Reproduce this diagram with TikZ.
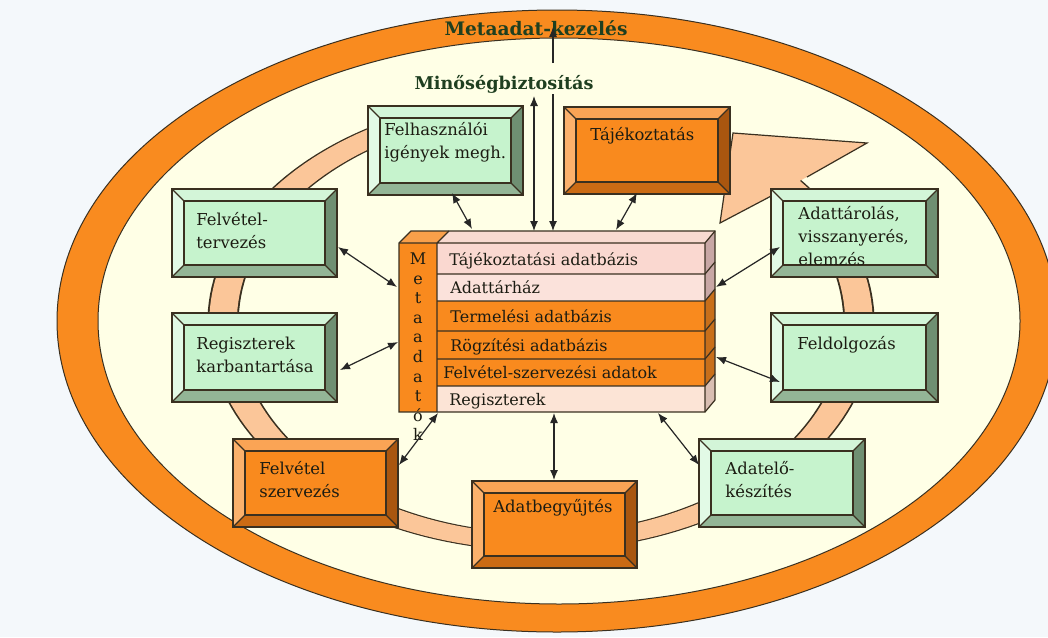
\documentclass[tikz,border=0pt]{standalone}
\usepackage{fontspec}
\setmainfont{DejaVu Serif}
\usetikzlibrary{calc,fit,arrows.meta}
\definecolor{bg}{HTML}{F4F8FB}
\definecolor{ringor}{HTML}{F98B1F}
\definecolor{cream}{HTML}{FFFFE6}
\definecolor{peach}{HTML}{FBC699}
\definecolor{edge}{HTML}{3A3020}
\definecolor{gface}{HTML}{C6F3CD}
\definecolor{gtop}{HTML}{D3F5D8}
\definecolor{gleft}{HTML}{E2FAE6}
\definecolor{gright}{HTML}{6F8F72}
\definecolor{gbot}{HTML}{93B596}
\definecolor{oface}{HTML}{F98A1E}
\definecolor{otop}{HTML}{FAA455}
\definecolor{oleft}{HTML}{FBB16C}
\definecolor{oright}{HTML}{A9560F}
\definecolor{obot}{HTML}{CB6B14}
\definecolor{txt}{HTML}{1C1C12}
\definecolor{ttl}{HTML}{1F3F20}
\definecolor{pinka}{HTML}{FAD8D0}
\definecolor{pinkb}{HTML}{FBE2DB}
\definecolor{peachc}{HTML}{FCE4D6}
\definecolor{sidep}{HTML}{C8A7A5}
\definecolor{sideo}{HTML}{C86F1A}
\definecolor{sider}{HTML}{D9BEB2}
\definecolor{topf}{HTML}{F8DAD0}
\definecolor{coltop}{HTML}{F9A04A}
\tikzset{
  boxtext/.style={font=\fontsize{8.2}{11.5}\selectfont, text=txt, align=left, inner sep=0pt},
  rowtext/.style={font=\fontsize{8}{10}\selectfont, text=txt, inner sep=0pt, anchor=base west},
  coltext/.style={font=\fontsize{8}{9.8}\selectfont, text=txt, align=center, inner sep=0pt},
  ttltext/.style={font=\bfseries\fontsize{9.3}{11}\selectfont, text=ttl, inner sep=0pt},
  outl/.style={draw=edge, line width=0.6pt},
  link/.style={line width=0.6pt, draw=black!85, {Latex[length=5pt,width=4pt]}-{Latex[length=5pt,width=4pt]}},
  linkone/.style={line width=0.6pt, draw=black!85, -{Latex[length=5pt,width=4pt]}},
}
\newcommand\bevelbox[9]{%
  \coordinate (#1-nw) at (#2,#3);
  \coordinate (#1-se) at (#4,#5);
  \coordinate (#1-ne) at (#4,#3);
  \coordinate (#1-sw) at (#2,#5);
  \coordinate (#1-inw) at ($(#1-nw)+(12,12)$);
  \coordinate (#1-ine) at ($(#1-ne)+(-12,12)$);
  \coordinate (#1-ise) at ($(#1-se)+(-12,-12)$);
  \coordinate (#1-isw) at ($(#1-sw)+(12,-12)$);
  \fill[#6top] (#1-nw) -- (#1-ne) -- (#1-ine) -- (#1-inw) -- cycle;
  \fill[#6left] (#1-nw) -- (#1-inw) -- (#1-isw) -- (#1-sw) -- cycle;
  \fill[#6right] (#1-ne) -- (#1-se) -- (#1-ise) -- (#1-ine) -- cycle;
  \fill[#6bot] (#1-sw) -- (#1-isw) -- (#1-ise) -- (#1-se) -- cycle;
  \fill[#6face] (#1-inw) rectangle (#1-ise);
  \draw[outl] (#1-inw) rectangle (#1-ise);
  \draw[outl] (#1-nw) -- (#1-inw) (#1-ne) -- (#1-ine) (#1-se) -- (#1-ise) (#1-sw) -- (#1-isw);
  \node[fit=(#1-nw)(#1-se), inner sep=0pt, outl] (#1) {};
  \node[boxtext, anchor=north west] (#1-t) at ($(#1-nw)+(#7,#8)$) {\rule{0pt}{8pt}#9};
}
\begin{document}
\begin{tikzpicture}[x=0.5pt, y=-0.5pt]
\useasboundingbox (0,0) rectangle (1048,637);
\fill[bg] (0,0) rectangle (1048,637);
% outer ring
\filldraw[fill=ringor, draw=edge, line width=0.5pt] (557,321) ellipse [x radius=250pt, y radius=155.5pt];
\filldraw[fill=cream, draw=edge, line width=0.5pt] (559,321) ellipse [x radius=230.5pt, y radius=141.5pt];
% cycle ring
\begin{scope}[transform canvas={xscale=1.7}]
  \draw[edge, line width=9.2pt] plot[domain=115:402, samples=150] ({(541+318*cos(\x))/1.7},{323-219*sin(\x)});
  \draw[peach, line width=8.1pt] plot[domain=114:403, samples=150] ({(541+318*cos(\x))/1.7},{323-219*sin(\x)});
\end{scope}
\fill[peach] (807,177) -- (867,143) -- (733,133) -- (720,223) -- (775,194) -- cycle;
\draw[edge, line width=0.6pt] (807,177) -- (867,143) -- (733,133) -- (720,223) -- (775,194);
% boxes
\bevelbox{felh}{368}{106}{523}{195}{g}{16}{13}{Felhasználói\\igények megh.}
\bevelbox{terv}{172}{189}{337}{277}{g}{24}{20}{Felvétel-\\tervezés}
\bevelbox{tajek}{564}{107}{730}{194}{o}{26}{17}{Tájékoztatás}
\bevelbox{tarol}{771}{189}{938}{277}{g}{27}{14}{Adattárolás,\\visszanyerés,\\elemzés}
\bevelbox{karb}{172}{313}{337}{402}{g}{24}{20}{Regiszterek\\karbantartása}
\bevelbox{feld}{771}{313}{938}{402}{g}{26}{20}{Feldolgozás}
\bevelbox{szerv}{233}{439}{398}{527}{o}{26}{19}{Felvétel\\szervezés}
\bevelbox{begy}{472}{481}{637}{568}{o}{21}{15}{Adatbegyűjtés}
\bevelbox{elok}{699}{439}{865}{527}{g}{26}{19}{Adatelő-\\készítés}
% central stack
\fill[oface] (399,243) rectangle (437,412);
\fill[coltop] (399,243) -- (411,231) -- (449,231) -- (437,243) -- cycle;
\fill[topf] (437,243) -- (449,231) -- (715,231) -- (705,243) -- cycle;
\fill[pinka] (437,243) rectangle (705,274);
\fill[pinkb] (437,274) rectangle (705,301);
\fill[oface] (437,301) rectangle (705,386);
\fill[peachc] (437,386) rectangle (705,412);
\fill[sidep] (705,243) -- (715,231) -- (715,289) -- (705,301) -- cycle;
\fill[sideo] (705,301) -- (715,289) -- (715,374) -- (705,386) -- cycle;
\fill[sider] (705,386) -- (715,374) -- (715,400) -- (705,412) -- cycle;
\draw[outl] (399,243) -- (411,231) -- (715,231) -- (715,400) -- (705,412) -- (399,412) -- cycle;
\draw[outl] (399,243) -- (705,243) -- (715,231) (437,243) -- (449,231) (437,243) -- (437,412) (705,243) -- (705,412);
\foreach \yy in {274,301,331,359,386}{
  \draw[outl] (437,\yy) -- (705,\yy) -- (715,\yy-12);
}
\node[fit={(399,231)(715,412)}, inner sep=0pt] (stack) {};
\node[rowtext] (r1) at (449,265) {Tájékoztatási adatbázis};
\node[rowtext] (r2) at (450,293.5) {Adattárház};
\node[rowtext] (r3) at (450,322) {Termelési adatbázis};
\node[rowtext] (r4) at (450,351) {Rögzítési adatbázis};
\node[rowtext] (r5) at (443,378.5) {Felvétel-szervezési adatok};
\node[rowtext] (r6) at (449,405) {Regiszterek};
\node[coltext, anchor=north] (meta-col) at (418,248) {\rule{0pt}{8pt}M\\e\\t\\a\\a\\d\\a\\t\\ó\\k};
% titles
\node[ttltext] (meta) at (536,28) {Metaadat-kezelés};
\node[ttltext, font=\bfseries\fontsize{8.8}{10}\selectfont] (minoseg) at (504,84) {Minőségbiztosítás};
% connectors
\coordinate (p1a) at (452,193); \coordinate (p1b) at (472,229);
\coordinate (p2a) at (338,247); \coordinate (p2b) at (397,287);
\coordinate (p3a) at (637,193); \coordinate (p3b) at (616,230);
\coordinate (p4a) at (780,247); \coordinate (p4b) at (716,287);
\coordinate (p5a) at (340,370); \coordinate (p5b) at (398,342);
\coordinate (p6a) at (399,465); \coordinate (p6b) at (438,413);
\coordinate (p7a) at (554,413); \coordinate (p7b) at (554,480);
\coordinate (p8a) at (658,413); \coordinate (p8b) at (699,465);
\coordinate (p9a) at (716,357); \coordinate (p9b) at (780,382);
\coordinate (q1a) at (534,96); \coordinate (q1b) at (534,231);
\coordinate (q2a) at (553,94); \coordinate (q2b) at (553,231);
\coordinate (q3a) at (553,63); \coordinate (q3b) at (553,27);
\draw[link] (p1a) -- (p1b);
\draw[link] (p2a) -- (p2b);
\draw[link] (p3a) -- (p3b);
\draw[link] (p4a) -- (p4b);
\draw[link] (p5a) -- (p5b);
\draw[link] (p6a) -- (p6b);
\draw[link] (p7a) -- (p7b);
\draw[link] (p8a) -- (p8b);
\draw[link] (p9a) -- (p9b);
\draw[link] (q1a) -- (q1b);
\draw[linkone] (q2a) -- (q2b);
\draw[linkone] (q3a) -- (q3b);
\end{tikzpicture}
\end{document}
